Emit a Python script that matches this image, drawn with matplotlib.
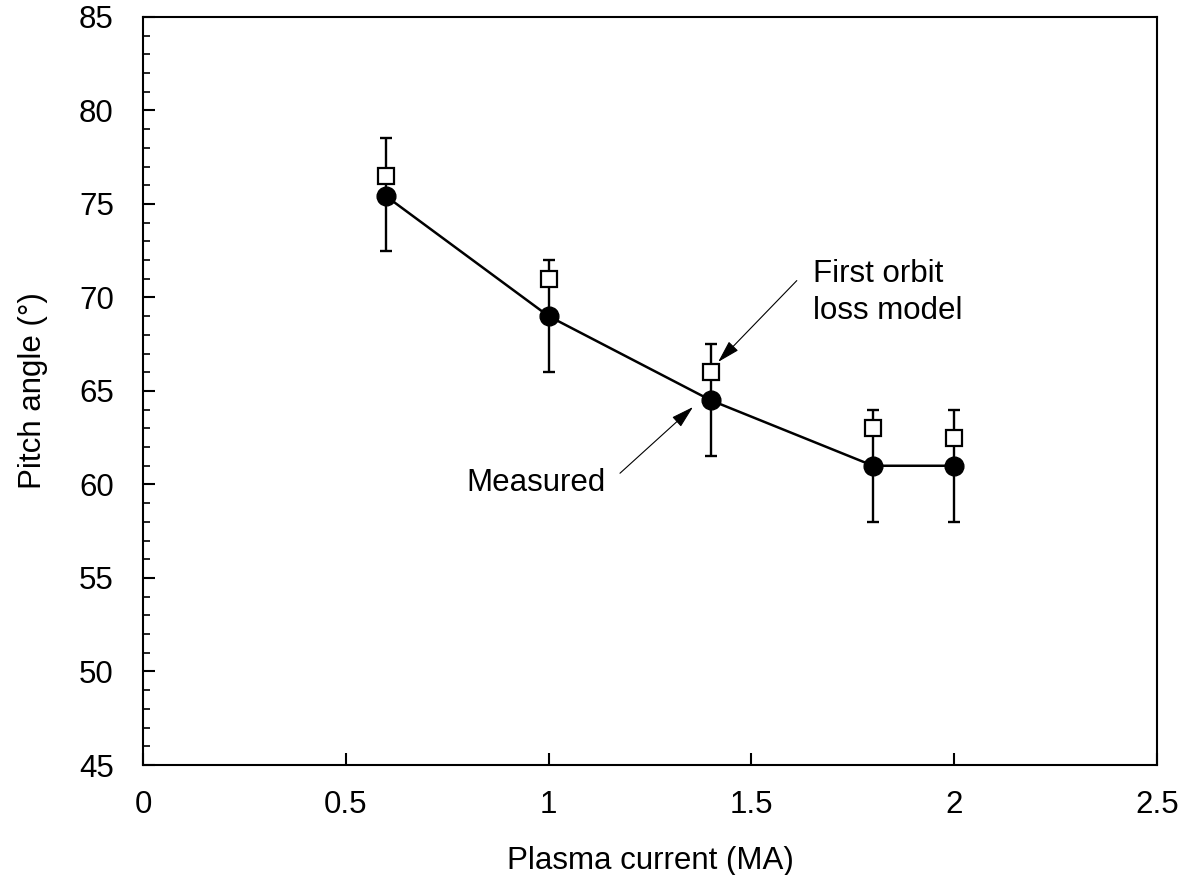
import matplotlib
matplotlib.use("Agg")
import matplotlib.pyplot as plt
from matplotlib.ticker import MultipleLocator

plt.rcParams['font.family'] = ['Liberation Sans', 'DejaVu Sans']

# plasma current (MA)
current = [0.6, 1.0, 1.4, 1.8, 2.0]
# measured pitch angle (deg) with error bar limits
measured = [75.4, 69.0, 64.5, 61.0, 61.0]
err_top = [78.5, 72.0, 67.5, 64.0, 64.0]
err_bot = [72.5, 66.0, 61.5, 58.0, 58.0]
# first orbit loss model
model = [76.5, 71.0, 66.0, 63.0, 62.5]

FS = 22.5

fig = plt.figure(figsize=(11.79, 8.75), dpi=100)
ax = fig.add_axes([0.1213, 0.1257, 0.86, 0.855])

lower = [m - b for m, b in zip(measured, err_bot)]
upper = [t - m for m, t in zip(measured, err_top)]
ax.errorbar(current, measured, yerr=[lower, upper], fmt='none',
            ecolor='black', elinewidth=1.7, capsize=4.5, capthick=1.7, zorder=2)
ax.plot(current, model, 's', markersize=12, markerfacecolor='white',
        markeredgecolor='black', markeredgewidth=1.6, zorder=3)
ax.plot(current, measured, '-o', color='black', linewidth=1.8,
        markersize=13.5, zorder=4)

arrow = dict(arrowstyle='-|>,head_length=0.7,head_width=0.2', color='black',
             lw=0.8, mutation_scale=20, shrinkA=0, shrinkB=0)

# annotations
ax.text(1.652, 70.24, 'First orbit\nloss model', fontsize=FS,
        ha='left', va='center', linespacing=1.3)
ax.annotate('', xy=(1.418, 66.55), xytext=(1.612, 70.9), arrowprops=arrow)
ax.text(0.969, 60.1, 'Measured', fontsize=FS, ha='center', va='center')
ax.annotate('', xy=(1.356, 64.14), xytext=(1.176, 60.6), arrowprops=arrow)

ax.set_xlim(0, 2.5)
ax.set_ylim(45, 85)
ax.yaxis.set_major_locator(MultipleLocator(5))
ax.yaxis.set_minor_locator(MultipleLocator(1))
ax.set_xticks([0, 0.5, 1, 1.5, 2, 2.5])
ax.set_xticklabels(['0', '0.5', '1', '1.5', '2', '2.5'])
ax.tick_params(axis='both', which='major', direction='in', length=8.5,
               width=1.5, labelsize=FS)
ax.tick_params(axis='x', pad=18)
ax.tick_params(axis='y', pad=21)
ax.tick_params(axis='y', which='minor', direction='in', length=5, width=1.2)

for s in ax.spines.values():
    s.set_linewidth(1.5)

ax.set_xlabel('Plasma current (MA)', fontsize=FS, labelpad=19)
ax.set_ylabel('Pitch angle (°)', fontsize=FS, labelpad=22)

fig.savefig('out.png', dpi=100)
